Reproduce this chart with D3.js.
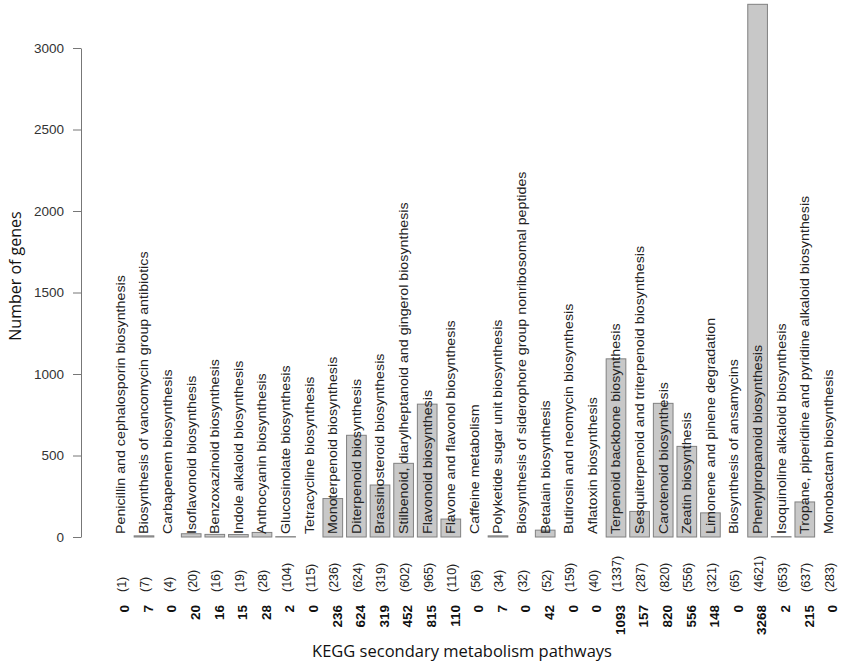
<!DOCTYPE html>
<html>
<head>
<meta charset="utf-8">
<script src="https://cdn.jsdelivr.net/npm/d3@7"></script>
<style>
  body { margin: 0; background: #fff; }
</style>
</head>
<body>
<svg id="chart" width="851" height="669"></svg>
<script>
// pathway names, annotated genes (bold) and total genes (in brackets)
const pathways = [
  "Penicillin and cephalosporin biosynthesis",
  "Biosynthesis of vancomycin group antibiotics",
  "Carbapenem biosynthesis",
  "Isoflavonoid biosynthesis",
  "Benzoxazinoid biosynthesis",
  "Indole alkaloid biosynthesis",
  "Anthocyanin biosynthesis",
  "Glucosinolate biosynthesis",
  "Tetracycline biosynthesis",
  "Monoterpenoid biosynthesis",
  "Diterpenoid biosynthesis",
  "Brassinosteroid biosynthesis",
  "Stilbenoid, diarylheptanoid and gingerol biosynthesis",
  "Flavonoid biosynthesis",
  "Flavone and flavonol biosynthesis",
  "Caffeine metabolism",
  "Polyketide sugar unit biosynthesis",
  "Biosynthesis of siderophore group nonribosomal peptides",
  "Betalain biosynthesis",
  "Butirosin and neomycin biosynthesis",
  "Aflatoxin biosynthesis",
  "Terpenoid backbone biosynthesis",
  "Sesquiterpenoid and triterpenoid biosynthesis",
  "Carotenoid biosynthesis",
  "Zeatin biosynthesis",
  "Limonene and pinene degradation",
  "Biosynthesis of ansamycins",
  "Phenylpropanoid biosynthesis",
  "Isoquinoline alkaloid biosynthesis",
  "Tropane, piperidine and pyridine alkaloid biosynthesis",
  "Monobactam biosynthesis"
]
const genes = [0, 7, 0, 20, 16, 15, 28, 2, 0, 236, 624, 319, 452, 815, 110, 0, 7, 0, 42, 0, 0,
  1093, 157, 820, 556, 148, 0, 3268, 2, 215, 0]
const totals = [1, 7, 4, 20, 16, 19, 28, 104, 115, 236, 624, 319, 602, 965, 110, 56, 34, 32, 52, 159, 40,
  1337, 287, 820, 556, 321, 65, 4621, 653, 637, 283]
const yTicks = [0, 500, 1000, 1500, 2000, 2500, 3000]

const arial = "'Liberation Sans', Arial, sans-serif"
const calibri = "'Open Sans', sans-serif"

const svg = d3.select("#chart")

const x = d3.scaleBand()
  .domain(d3.range(pathways.length))
  .range([108.6, 840.2])
  .paddingInner(0.1667)
  .paddingOuter(0.0833)

const y = d3.scaleLinear().domain([0, 3000]).range([537, 48])

// y axis, R style (no outer ticks, line only over the tick range)
const yAxis = svg.append("g")
  .attr("transform", "translate(81,0)")
  .call(d3.axisLeft(y).tickValues(yTicks).tickFormat(d3.format("d"))
    .tickSize(8).tickSizeOuter(0).tickPadding(9))
yAxis.select(".domain").attr("stroke", "#777")
yAxis.selectAll(".tick line").attr("stroke", "#777")
yAxis.selectAll(".tick text")
  .attr("fill", "#333")
  .style("font-family", arial)
  .style("font-size", "13.5px")

// bars
svg.append("g").selectAll("rect")
  .data(genes).enter()
  .append("rect")
    .attr("x", (d, i) => x(i))
    .attr("y", d => y(d))
    .attr("width", x.bandwidth())
    .attr("height", d => y(0) - y(d))
    .attr("fill", "#c8c8c8")
    .attr("stroke", "#808080")
    .attr("stroke-width", 1)

// pathway names written upward from the baseline (a bit stretched lengthwise, like the figure)
svg.append("g").selectAll("text")
  .data(pathways).enter()
  .append("text")
    .attr("transform", (d, i) => `translate(${x(i) + x.bandwidth() / 2},534) rotate(-90) scale(1.14,1)`)
    .attr("dy", "0.35em")
    .attr("fill", "#222")
    .style("font-family", arial)
    .style("font-size", "12.5px")
    .text(d => d)

// totals in brackets
svg.append("g").selectAll("text")
  .data(totals).enter()
  .append("text")
    .attr("transform", (d, i) => `translate(${x(i) + x.bandwidth() / 2 + 1},592) rotate(-90)`)
    .attr("dy", "0.35em")
    .attr("fill", "#222")
    .style("font-family", arial)
    .style("font-size", "12.5px")
    .text(d => "(" + d + ")")

// annotated genes, bold, hanging down
svg.append("g").selectAll("text")
  .data(genes).enter()
  .append("text")
    .attr("transform", (d, i) => `translate(${x(i) + x.bandwidth() / 2 + 4},605) rotate(-90)`)
    .attr("dy", "0.35em")
    .attr("text-anchor", "end")
    .attr("fill", "#111")
    .style("font-family", arial)
    .style("font-size", "13.5px")
    .style("font-weight", "bold")
    .text(d => d)

// axis titles
svg.append("text")
  .attr("x", 462).attr("y", 657)
  .attr("text-anchor", "middle")
  .style("font-family", calibri)
  .style("font-size", "16.5px")
  .attr("fill", "#111")
  .text("KEGG secondary metabolism pathways")

svg.append("text")
  .attr("transform", "translate(15,276) rotate(-90)")
  .attr("dy", "0.35em")
  .attr("text-anchor", "middle")
  .style("font-family", calibri)
  .style("font-size", "16px")
  .attr("fill", "#111")
  .text("Number of genes")
</script>
</body>
</html>
